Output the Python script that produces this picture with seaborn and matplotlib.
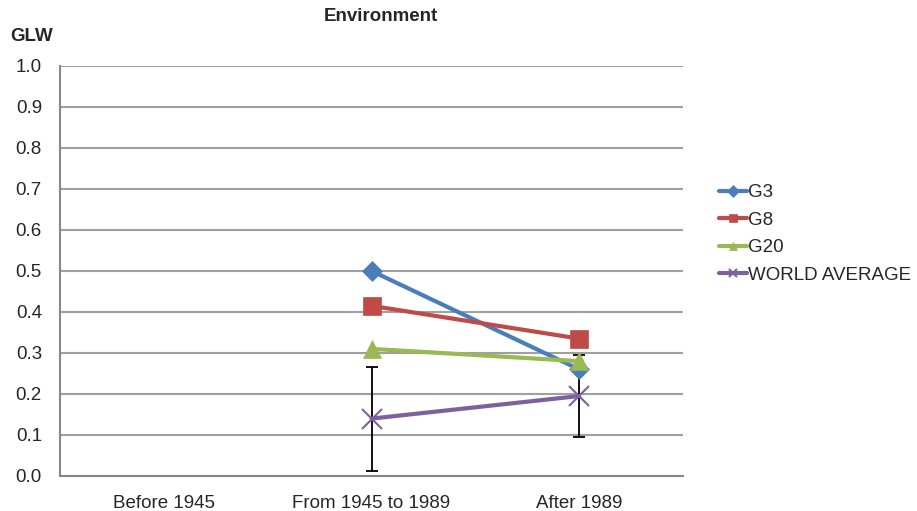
import matplotlib
matplotlib.use('Agg')
import matplotlib.pyplot as plt
from matplotlib.lines import Line2D
import numpy as np
import pandas as pd
import seaborn as sns

sns.set_theme(style='white')
plt.rcParams['font.family'] = ['Liberation Sans', 'DejaVu Sans']

CATEGORIES = ['Before 1945', 'From 1945 to 1989', 'After 1989']
G3 = [np.nan, 0.50, 0.26]
G8 = [np.nan, 0.415, 0.335]
G20 = [np.nan, 0.31, 0.28]
WORLD = [np.nan, 0.14, 0.195]
WORLD_LOW = [np.nan, 0.012, 0.094]
WORLD_HIGH = [np.nan, 0.267, 0.296]

SERIES = ['G3', 'G8', 'G20', 'WORLD AVERAGE']
COLORS = {'G3': '#4a7ebb', 'G8': '#be4b48', 'G20': '#98b954', 'WORLD AVERAGE': '#7d60a0'}
MARKERS = {'G3': 'D', 'G8': 's', 'G20': '^', 'WORLD AVERAGE': 'x'}
MSIZE = {'G3': 10, 'G8': 13, 'G20': 13, 'WORLD AVERAGE': 14}

rows = []
for name, vals in zip(SERIES, [G3, G8, G20, WORLD]):
    for i, v in enumerate(vals):
        rows.append({'pos': i, 'value': v, 'series': name})
df = pd.DataFrame(rows)

fig = plt.figure(figsize=(9.17, 5.11), dpi=100)
ax = fig.add_axes([0.0654, 0.0685, 0.6795, 0.8025])

# error bars for world average
pos = np.arange(len(CATEGORIES))
w = np.array(WORLD)
err = np.vstack([w - np.array(WORLD_LOW), np.array(WORLD_HIGH) - w])
ax.errorbar(pos, w, yerr=err, fmt='none', ecolor='black', elinewidth=1.3,
            capsize=4, capthick=1.3, zorder=2)

for name in SERIES:
    sub = df[df.series == name].dropna()
    mk = MARKERS[name]
    sns.lineplot(data=sub, x='pos', y='value', ax=ax, color=COLORS[name],
                 linewidth=3, marker=mk, markersize=MSIZE[name],
                 markeredgecolor=COLORS[name],
                 markeredgewidth=1.5 if mk == 'x' else 0.5,
                 legend=False, zorder=3)

ax.set_xlim(-0.5, len(CATEGORIES) - 0.5)
ax.set_ylim(0, 1.0)
ax.set_yticks(np.arange(0, 1.01, 0.1))
ax.set_yticklabels([f'{v:.1f}' for v in np.arange(0, 1.01, 0.1)], fontsize=13.5)
ax.set_xticks(pos)
ax.set_xticklabels(CATEGORIES, fontsize=13.5)
ax.set_xticks(np.arange(-0.5, len(CATEGORIES), 1.0), minor=True)
ax.tick_params(axis='x', which='major', length=0, pad=14)
ax.tick_params(axis='x', which='minor', length=5, color='#888888', width=1.2, direction='out')
ax.tick_params(axis='y', length=5, color='#888888', width=1.2, direction='out', pad=8)
ax.set_xlabel('')
ax.set_ylabel('')

ax.yaxis.grid(True, color='#a0a0a0', linewidth=1.5)
ax.xaxis.grid(False)
for s in ['top', 'right']:
    ax.spines[s].set_visible(False)
for s in ['left', 'bottom']:
    ax.spines[s].set_color('#888888')
    ax.spines[s].set_linewidth(1.5)
ax.set_axisbelow(True)

fig.text(0.415, 0.968, 'Environment', fontsize=13.5, fontweight='bold', ha='center', va='center')
fig.text(0.011, 0.928, 'GLW', fontsize=13.5, fontweight='bold', ha='left', va='center')

handles = [Line2D([], [], color=COLORS[n], linewidth=3, marker=MARKERS[n],
                  markersize=6, markeredgewidth=1.5 if MARKERS[n] == 'x' else 0.5,
                  markeredgecolor=COLORS[n]) for n in SERIES]
ax.legend(handles, SERIES, loc='upper left', bbox_to_anchor=(1.045, 0.73),
          frameon=False, fontsize=13.5, handlelength=1.5, handletextpad=0.05,
          labelspacing=0.55, borderaxespad=0)

fig.savefig('out.png', dpi=100)
